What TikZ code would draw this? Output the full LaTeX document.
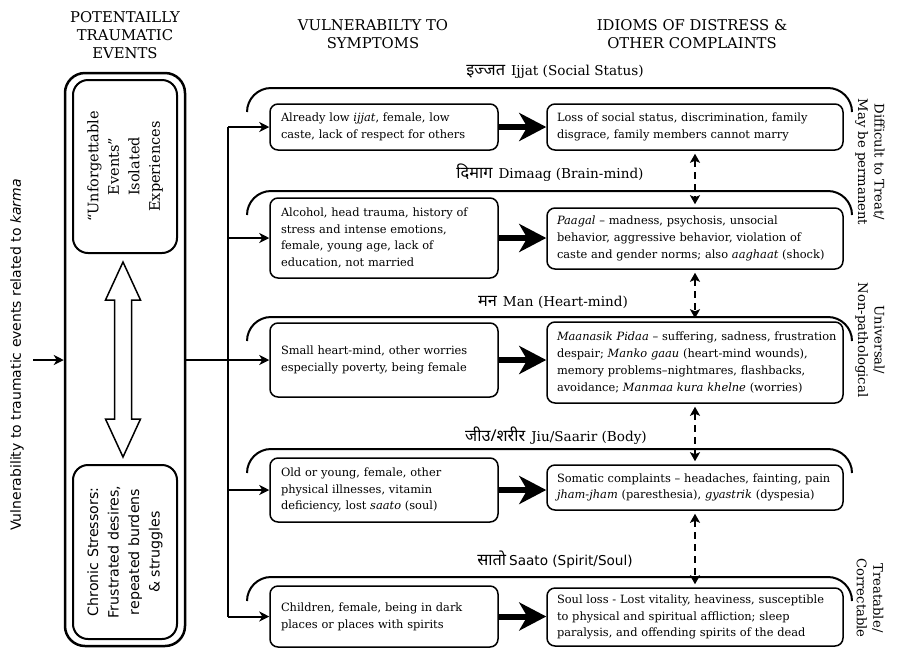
\documentclass[tikz,border=0pt]{standalone}
\usepackage{fontspec}
\setmainfont{DejaVu Serif}
\newfontfamily\deva[Script=Devanagari,Scale=1.2]{Noto Sans}
\newfontfamily\lsans{DejaVu Sans}
\usetikzlibrary{arrows.meta}
\tikzset{
  boxtxt/.style={draw, line width=1.5pt, rounded corners=8pt, align=left, inner xsep=11pt, inner ysep=0pt,
    font=\fontsize{11.4}{16.8}\selectfont},
  lbox/.style={boxtxt, text width=206pt, minimum width=228pt},
  rbox/.style={boxtxt, inner xsep=10pt, text width=276pt, minimum width=296pt},
  title/.style={align=center, font=\fontsize{14.8}{18}\selectfont},
  seclabel/.style={font=\fontsize{13.6}{15}\selectfont},
  sidetxt/.style={rotate=-90, align=center, font=\fontsize{13.2}{16.5}\selectfont},
  brk/.style={line width=2pt},
  branch/.style={line width=2pt, -{Stealth[length=10pt,width=10pt,inset=3pt]}},
  thickarr/.style={line width=6pt, -{Stealth[length=27pt,width=28pt,inset=8pt]}},
  dasharr/.style={line width=2.5pt, dash pattern=on 7pt off 5pt, shorten <=3pt, shorten >=3pt,
    {Stealth[length=9pt,width=10pt,inset=2pt]}-{Stealth[length=9pt,width=10pt,inset=2pt]}},
}
\newcommand{\brkt}[1]{\draw[brk] (247,#1+24) .. controls (247,#1+10.8) and (257.8,#1) .. (271,#1) -- (828,#1) .. controls (841.2,#1) and (852,#1+10.8) .. (852,#1+24);}
\begin{document}
\begin{tikzpicture}[x=1pt,y=-1pt]
\useasboundingbox (0,0) rectangle (905,649);

% titles
\node[title] (t1) at (125,35) {POTENTAILLY\\TRAUMATIC\\EVENTS};
\node[title] (t2) at (373,34) {VULNERABILTY TO\\SYMPTOMS};
\node[title] (t3) at (692,34) {IDIOMS OF DISTRESS \&\\OTHER COMPLAINTS};

% left column
\node[draw, line width=2.5pt, rounded corners=20pt, minimum width=120pt, minimum height=573pt, inner sep=0pt] (outer) at (125,359.5) {};
\node[draw, line width=2pt, rounded corners=15pt, rotate=90, minimum width=173pt, minimum height=104pt, inner sep=0pt,
  align=center, font=\fontsize{14.5}{20.5}\selectfont] (ue) at (125,166.5) {“Unforgettable\\Events”\\Isolated\\Experiences};
\node[draw, line width=2pt, rounded corners=15pt, rotate=90, minimum width=174pt, minimum height=104pt, inner sep=0pt,
  align=center, font=\lsans\fontsize{14.2}{20.5}\selectfont] (cs) at (125,552) {Chronic Stressors:\\Frustrated desires,\\repeated burdens\\\& struggles};
\draw[line width=1.5pt, fill=white] (123,262) -- (140.5,300) -- (131.5,300) -- (131.5,419) -- (140.5,419) -- (123,457)
  -- (105.5,419) -- (114.5,419) -- (114.5,300) -- (105.5,300) -- cycle;

\node[rotate=90, font=\lsans\fontsize{14}{16}\selectfont] (vk) at (17,355) {Vulnerability to traumatic events related to \textit{karma}};
\coordinate (in) at (33,360);
\draw[branch] (in) -- (in -| outer.west);

% section labels and brackets
\node[seclabel] (s1) at (555,72) {{\deva इज्जत}\hspace{6pt}Ijjat (Social Status)};
\node[seclabel] (s2) at (550,173) {{\deva दिमाग}\hspace{6pt}Dimaag (Brain-mind)};
\node[seclabel] (s3) at (553,302) {{\deva मन}\hspace{6pt}Man (Heart-mind)};
\node[seclabel] (s4) at (556,436) {{\deva जीउ/शरीर}\hspace{6pt}Jiu/Saarir (Body)};
\node[seclabel] (s5) at (555,560) {{\deva सातो}\hspace{3pt}{\lsans Saato (Spirit/Soul)}};
\brkt{88}
\brkt{191}
\brkt{317}
\brkt{449}
\brkt{577}

% left boxes
\node[lbox, minimum height=46pt] (L1) at (384,127) {Already low \textit{ijjat}, female, low\\caste, lack of respect for others};
\node[lbox, minimum height=80pt] (L2) at (384,238) {Alcohol, head trauma, history of\\stress and intense emotions,\\female, young age, lack of\\education, not married};
\node[lbox, minimum height=74pt] (L3) at (384,360) {Small heart-mind, other worries\\especially poverty, being female};
\node[lbox, minimum height=64pt] (L4) at (384,490) {Old or young, female, other\\physical illnesses, vitamin\\deficiency, lost \textit{saato} (soul)};
\node[lbox, minimum height=61pt] (L5) at (384,616.5) {Children, female, being in dark\\places or places with spirits};

% right boxes
\node[rbox, minimum height=46pt] (R1) at (695,127) {\mbox{Loss of social status, discrimination, family}\\\mbox{disgrace, family members cannot marry}};
\node[rbox, minimum height=61pt] (R2) at (695,238.5) {\mbox{\textit{Paagal} – madness, psychosis, unsocial}\\\mbox{behavior, aggressive behavior, violation of}\\\mbox{caste and gender norms; also \textit{aaghaat} (shock)}};
\node[rbox, minimum height=81pt] (R3) at (695,362.5) {\mbox{\textit{Maanasik Pidaa} – suffering, sadness, frustration}\\\mbox{despair; \textit{Manko gaau} (heart-mind wounds),}\\\mbox{memory problems–nightmares, flashbacks,}\\\mbox{avoidance; \textit{Manmaa kura khelne} (worries)}};
\node[rbox, minimum height=45pt] (R4) at (695,487.5) {\mbox{Somatic complaints – headaches, fainting, pain}\\\mbox{\textit{jham-jham} (paresthesia), \textit{gyastrik} (dyspesia)}};
\node[rbox, minimum height=58pt] (R5) at (695,617) {\mbox{Soul loss - Lost vitality, heaviness, susceptible}\\\mbox{to physical and spiritual affliction; sleep}\\\mbox{paralysis, and offending spirits of the dead}};

% trunk and branches
\coordinate (tk) at (228,0);
\draw[line width=2.5pt] (outer.east |- in) -- (in -| tk);
\draw[line width=2.5pt] (L1.west -| tk) -- (L5.west -| tk);
\foreach \n in {1,...,5}{\draw[branch] (L\n.west -| tk) -- (L\n.west);}

% thick arrows
\foreach \n in {1,...,5}{\draw[thickarr] (L\n.east) -- (L\n.east -| R\n.west);}

% dashed double arrows
\draw[dasharr] (R1.south) -- (R2.north);
\draw[dasharr] (R2.south) -- (R3.north);
\draw[dasharr] (R3.south) -- (R4.north);
\draw[dasharr] (R4.south) -- (R5.north);

% side texts
\node[sidetxt] (d1) at (870,162) {Difficult to Treat/\\May be permanent};
\node[sidetxt] (d2) at (870,340) {Universal/\\Non-pathological};
\node[sidetxt] (d3) at (870,598) {Treatable/\\Correctable};
\end{tikzpicture}
\end{document}
